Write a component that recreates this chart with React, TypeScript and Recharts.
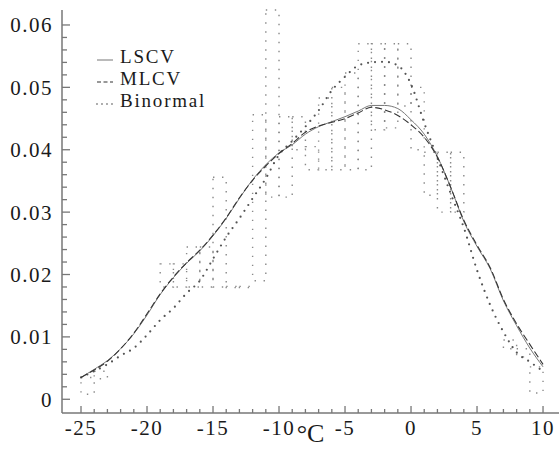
import React from 'react'
import { ComposedChart, Line, XAxis, YAxis, ReferenceArea, Legend } from 'recharts'

const temps = [-25, -24, -23, -22, -21, -20, -19, -18, -17, -16, -15, -14, -13, -12, -11, -10, -9, -8, -7, -6, -5, -4, -3, -2, -1, 0, 1, 2, 3, 4, 5, 6, 7, 8, 9, 10]

const lscv = [0.0035, 0.0048, 0.0062, 0.0081, 0.0105, 0.0135, 0.0168, 0.0195, 0.0218, 0.0238, 0.0262, 0.029, 0.0322, 0.0352, 0.0376, 0.0395, 0.0408, 0.0425, 0.0437, 0.0445, 0.0453, 0.0462, 0.0471, 0.0471, 0.0466, 0.0448, 0.0425, 0.0389, 0.034, 0.0285, 0.0245, 0.0209, 0.0158, 0.0118, 0.0082, 0.0052]
const mlcv = [0.0035, 0.0047, 0.0061, 0.0081, 0.0106, 0.0137, 0.0169, 0.0196, 0.0219, 0.0239, 0.0263, 0.0291, 0.0323, 0.0351, 0.0374, 0.0394, 0.041, 0.0428, 0.0438, 0.0444, 0.045, 0.0459, 0.0468, 0.0464, 0.0455, 0.044, 0.042, 0.0388, 0.034, 0.0287, 0.0247, 0.0211, 0.016, 0.0121, 0.0088, 0.0056]
const binormal = [0.0035, 0.0045, 0.0056, 0.007, 0.0082, 0.0103, 0.0127, 0.0146, 0.017, 0.019, 0.0225, 0.026, 0.029, 0.0322, 0.0354, 0.0392, 0.0414, 0.0437, 0.0463, 0.0495, 0.0517, 0.0535, 0.054, 0.0541, 0.0535, 0.0505, 0.0443, 0.0387, 0.033, 0.0275, 0.0207, 0.0151, 0.0108, 0.0075, 0.006, 0.0045]

// dotted boxes, one per 1 °C bin
const binStart = [-25, -24, -19, -18, -17, -16, -15, -14, -13, -12, -11, -10, -9, -8, -7, -6, -5, -4, -3, -2, -1, 0, 1, 2, 3, 7, 8, 9]
const binLow = [0.0008, 0.0033, 0.018, 0.018, 0.018, 0.018, 0.018, 0.0179, 0.0179, 0.019, 0.0324, 0.0324, 0.04, 0.0368, 0.0368, 0.0368, 0.0368, 0.0368, 0.0432, 0.0435, 0.047, 0.04, 0.0327, 0.03, 0.03, 0.0081, 0.0068, 0.001]
const binHigh = [0.0035, 0.0045, 0.0217, 0.0217, 0.0244, 0.0244, 0.0356, 0.0181, 0.0181, 0.0456, 0.0624, 0.0453, 0.0453, 0.0405, 0.0483, 0.05, 0.0523, 0.057, 0.057, 0.057, 0.057, 0.05, 0.0396, 0.0396, 0.0396, 0.0095, 0.0081, 0.0052]

const xTicks = Array.from({ length: 36 }, (_, i) => i - 25)
const yTicks = Array.from({ length: 31 }, (_, i) => +(i * 0.002).toFixed(3))

const legendItems = [
  { name: 'LSCV', dash: undefined, width: 1, color: '#777', cap: 'butt' },
  { name: 'MLCV', dash: '4 2.5', width: 1.2, color: '#333', cap: 'butt' },
  { name: 'Binormal', dash: '0 5', width: 1.8, color: '#888', cap: 'round' },
]

const FONT = '"Liberation Serif", "Times New Roman", serif'
const AXIS = '#777'

const rows = temps.map((t, i) => ({ t, lscv: lscv[i], mlcv: mlcv[i], binormal: binormal[i] }))

const isMajorY = (v: number) => Math.abs(v * 100 - Math.round(v * 100)) < 1e-6

function YTick({ x, y, payload }: any) {
  const v = payload.value
  const major = isMajorY(v)
  const ax = x + 9
  return (
    <g>
      <line x1={ax} x2={ax + (major ? 8 : 5)} y1={y} y2={y} stroke={AXIS} strokeWidth={1.3} />
      {major && (
        <text x={x} y={y} dy="0.355em" textAnchor="end" style={{ fontFamily: FONT }} fontSize={21} letterSpacing={1.5} fill="#1a1a1a">
          {v === 0 ? '0' : v.toFixed(2)}
        </text>
      )}
    </g>
  )
}

function XTick({ x, y, payload }: any) {
  const v = payload.value
  const major = v % 5 === 0
  const ay = y - 7
  return (
    <g>
      <line x1={x} x2={x} y1={ay} y2={ay - (major ? 7 : 4)} stroke={AXIS} strokeWidth={1.3} />
      {major && (
        <text x={x} y={y} dy="0.71em" textAnchor="middle" style={{ fontFamily: FONT }} fontSize={21} letterSpacing={1.5} fill="#1a1a1a">
          {String(v)}
        </text>
      )}
    </g>
  )
}

function LegendBox() {
  return (
    <svg width={250} height={120} style={{ display: 'block' }}>
      {legendItems.map((it, i) => {
        const ly = 60 + i * 22
        return (
          <g key={it.name}>
            <line x1={97} x2={113} y1={ly} y2={ly} stroke={it.color} strokeWidth={it.width} strokeDasharray={it.dash} strokeLinecap={it.cap as any} />
            <text x={120} y={ly + 3} style={{ fontFamily: FONT }} fontSize={19} letterSpacing={1.8} fill="#1a1a1a">
              {it.name}
            </text>
          </g>
        )
      })}
    </svg>
  )
}

function DegLabel({ viewBox }: any) {
  const cx = viewBox.x + viewBox.width / 2
  return (
    <text x={cx} y={442} textAnchor="middle" style={{ fontFamily: FONT }} fontSize={26} fill="#1a1a1a">
      °C
    </text>
  )
}

export default function App() {
  return (
    <div style={{ position: 'absolute', left: 0, top: 0, background: '#fff' }}>
      <ComposedChart width={559} height={451} data={rows} margin={{ top: 10, right: 0, left: 0, bottom: 0 }}>
        <XAxis
          dataKey="t"
          type="number"
          domain={[-26.44, 11.21]}
          ticks={xTicks}
          interval={0}
          allowDataOverflow
          height={38}
          tickSize={0}
          tickMargin={7}
          tickLine={false}
          tick={<XTick />}
          axisLine={{ stroke: AXIS, strokeWidth: 1.5 }}
          label={<DegLabel />}
        />
        <YAxis
          type="number"
          domain={[-0.0022, 0.0624]}
          ticks={yTicks}
          interval={0}
          allowDataOverflow
          width={62}
          tickSize={0}
          tickMargin={9}
          tickLine={false}
          tick={<YTick />}
          axisLine={{ stroke: AXIS, strokeWidth: 1.5 }}
        />
        {binStart.map((b, i) => (
          <ReferenceArea
            key={i}
            x1={b}
            x2={b + 1}
            y1={binLow[i]}
            y2={binHigh[i]}
            fill="none"
            fillOpacity={0}
            stroke="#8a8a8a"
            strokeWidth={1.4}
            strokeDasharray="1.4 7.6"
            ifOverflow="visible"
          />
        ))}
        <Legend
          layout="vertical"
          align="center"
          verticalAlign="middle"
          wrapperStyle={{ left: 0, top: 0, width: 250 }}
          content={<LegendBox />}
        />
        <Line type="monotone" dataKey="binormal" stroke="#555" strokeWidth={2.2} strokeDasharray="0 7" strokeLinecap="round" dot={false} isAnimationActive={false} />
        <Line type="monotone" dataKey="lscv" stroke="#777" strokeWidth={1} dot={false} isAnimationActive={false} />
        <Line type="monotone" dataKey="mlcv" stroke="#333" strokeWidth={1.1} strokeDasharray="7 3" dot={false} isAnimationActive={false} />
      </ComposedChart>
    </div>
  )
}
